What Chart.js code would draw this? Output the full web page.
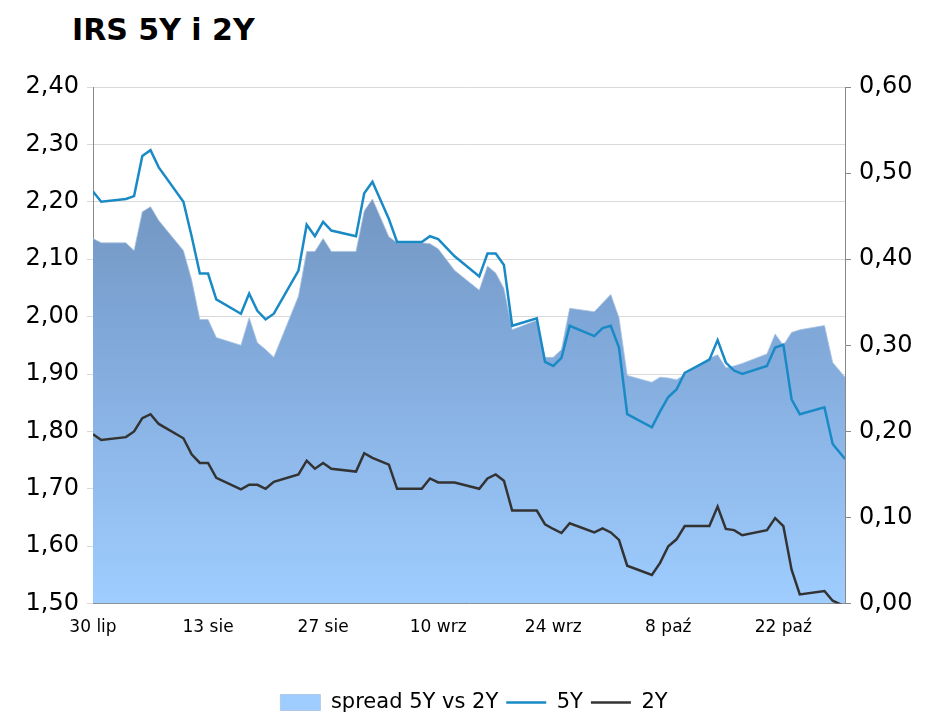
<!DOCTYPE html>
<html>
<head>
<meta charset="utf-8">
<script src="https://cdn.jsdelivr.net/npm/chart.js@4/dist/chart.umd.min.js"></script>
<style>
  body { margin: 0; background: #fff; }
  #wrap { position: relative; width: 948px; height: 727px; }
  h1 { position: absolute; left: 72px; top: 12px; margin: 0; font: bold 30px "DejaVu Sans", sans-serif; color: #000; }
  canvas { position: absolute; left: 0; top: 0; }
</style>
</head>
<body>
<div id="wrap">
  <h1>IRS 5Y i 2Y</h1>
  <canvas id="c" width="948" height="727"></canvas>
</div>
<script>
// days since 30 lip
const days = [0,1,4,5,6,7,8,11,12,13,14,15,18,19,20,21,22,25,26,27,28,29,32,33,34,36,37,40,41,42,44,47,48,49,50,51,54,55,56,57,58,61,62,63,64,65,68,69,70,71,72,75,76,77,78,79,82,83,84,85,86,89,90,91.5];
const tickLabels = ['30 lip', '13 sie', '27 sie', '10 wrz', '24 wrz', '8 paź', '22 paź'];

const irs5y = [2.218,2.20,2.205,2.21,2.28,2.29,2.26,2.20,2.14,2.075,2.075,2.03,2.005,2.04,2.01,1.995,2.005,2.08,2.16,2.14,2.165,2.15,2.14,2.215,2.235,2.17,2.13,2.13,2.14,2.135,2.105,2.07,2.11,2.11,2.09,1.984,1.997,1.921,1.914,1.928,1.984,1.966,1.98,1.984,1.946,1.83,1.807,1.835,1.86,1.873,1.902,1.925,1.959,1.92,1.906,1.90,1.914,1.946,1.951,1.856,1.83,1.842,1.778,1.752];
const irs2y = [1.795,1.785,1.79,1.80,1.823,1.83,1.813,1.788,1.76,1.745,1.745,1.719,1.699,1.707,1.707,1.70,1.712,1.725,1.749,1.735,1.745,1.735,1.73,1.762,1.754,1.742,1.70,1.70,1.718,1.711,1.711,1.70,1.718,1.725,1.714,1.662,1.662,1.638,1.63,1.623,1.64,1.624,1.631,1.624,1.611,1.566,1.55,1.571,1.60,1.612,1.635,1.635,1.669,1.63,1.628,1.619,1.628,1.649,1.635,1.559,1.516,1.522,1.505,1.495];
const spread = [0.424,0.419,0.419,0.41,0.455,0.461,0.445,0.41,0.376,0.33,0.33,0.309,0.30,0.332,0.303,0.295,0.286,0.357,0.409,0.409,0.424,0.409,0.409,0.456,0.47,0.426,0.419,0.419,0.418,0.412,0.387,0.364,0.392,0.384,0.366,0.318,0.329,0.286,0.286,0.295,0.343,0.339,0.349,0.359,0.332,0.265,0.257,0.263,0.262,0.26,0.266,0.285,0.289,0.274,0.276,0.279,0.29,0.313,0.30,0.315,0.318,0.323,0.28,0.263];

const pts = vals => days.map((d, i) => ({ x: d, y: vals[i] }));
const fmt = (v, n) => v.toFixed(n).replace('.', ',');

function areaFill(ctx) {
  const area = ctx.chart.chartArea;
  if (!area) return '#8fb3df';
  const g = ctx.chart.ctx.createLinearGradient(0, area.top, 0, area.bottom);
  g.addColorStop(0, '#6a88b0');
  g.addColorStop(0.45, '#7ea6d6');
  g.addColorStop(1, '#9fcdff');
  return g;
}

new Chart(document.getElementById('c'), {
  type: 'line',
  data: {
    datasets: [
      { label: 'spread 5Y vs 2Y', data: pts(spread), yAxisID: 'y1', fill: 'origin', backgroundColor: areaFill,
        borderColor: 'rgba(170,195,225,0.8)', borderWidth: 1, pointRadius: 0, tension: 0, pointStyle: 'rect', order: 3 },
      { label: '5Y', data: pts(irs5y), yAxisID: 'y', borderColor: '#1a8ac6', backgroundColor: '#1a8ac6',
        borderWidth: 2.5, pointRadius: 0, tension: 0, pointStyle: 'line', order: 1 },
      { label: '2Y', data: pts(irs2y), yAxisID: 'y', borderColor: '#333333', backgroundColor: '#333333',
        borderWidth: 2.5, pointRadius: 0, tension: 0, pointStyle: 'line', order: 2 }
    ]
  },
  options: {
    responsive: false,
    animation: false,
    layout: { padding: { top: 87, left: 0, right: 0, bottom: 4 } },
    plugins: {
      tooltip: { enabled: false },
      legend: {
        position: 'bottom',
        labels: { usePointStyle: true, pointStyleWidth: 40, boxHeight: 16, color: '#000',
          font: { family: 'DejaVu Sans', size: 21 }, padding: 8,
          sort: (a, b) => a.datasetIndex - b.datasetIndex }
      }
    },
    scales: {
      x: {
        type: 'linear', min: 0, max: 91.5,
        afterBuildTicks: s => { s.ticks = tickLabels.map((_, i) => ({ value: i * 14 })); },
        afterFit: s => { s.height += 38; },
        ticks: { callback: (v) => tickLabels[v / 14], color: '#000', font: { family: 'DejaVu Sans', size: 17 }, maxRotation: 0, padding: 8 },
        grid: { display: false, drawTicks: true, tickLength: 6, color: '#888' },
        border: { color: '#888' }
      },
      y: {
        position: 'left', min: 1.5, max: 2.4,
        afterBuildTicks: s => { s.ticks = [1.5,1.6,1.7,1.8,1.9,2.0,2.1,2.2,2.3,2.4].map(v => ({ value: v })); },
        afterFit: s => { s.width = 93; },
        ticks: { callback: v => fmt(v, 2), color: '#000', font: { family: 'DejaVu Sans', size: 24 }, padding: 8 },
        grid: { color: '#d9d9d9', tickLength: 6 },
        border: { color: '#888' }
      },
      y1: {
        position: 'right', min: 0, max: 0.6,
        afterBuildTicks: s => { s.ticks = [0,0.1,0.2,0.3,0.4,0.5,0.6].map(v => ({ value: v })); },
        afterFit: s => { s.width = 103; },
        ticks: { callback: v => fmt(v, 2), color: '#000', font: { family: 'DejaVu Sans', size: 24 }, padding: 8 },
        grid: { drawOnChartArea: false, tickLength: 6, color: '#888' },
        border: { color: '#888' }
      }
    }
  }
});
</script>
</body>
</html>
